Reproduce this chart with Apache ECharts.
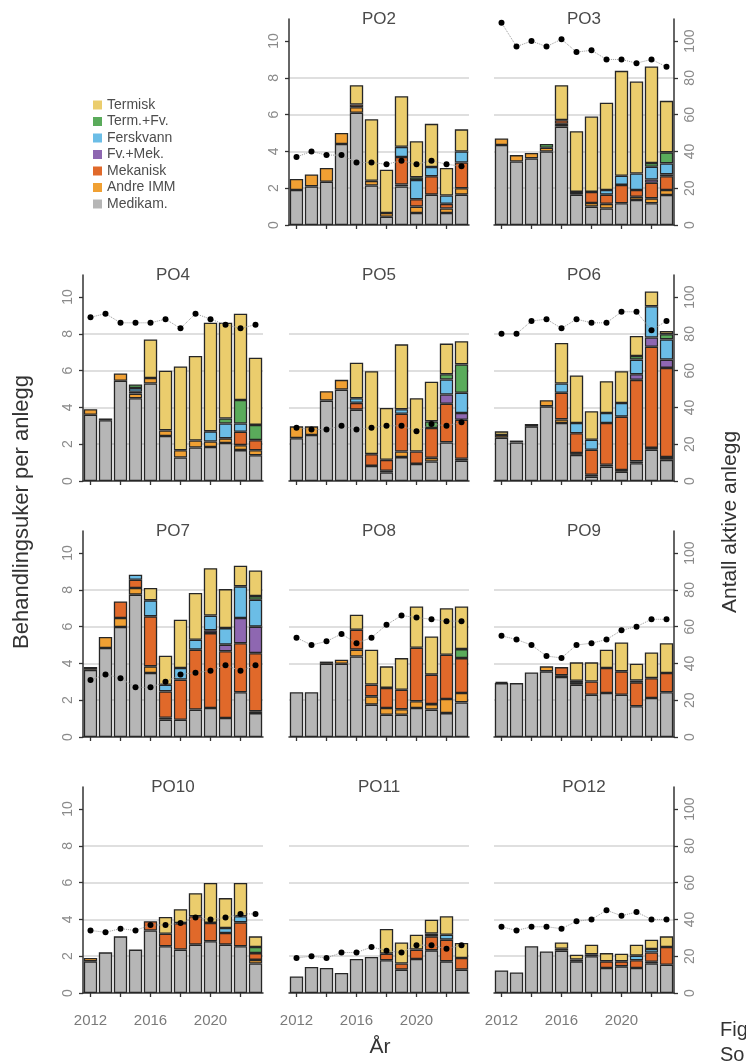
<!DOCTYPE html>
<html><head><meta charset="utf-8">
<script src="https://cdn.jsdelivr.net/npm/echarts@6/dist/echarts.min.js"></script>
<style>html,body{margin:0;padding:0;background:#fff}#c{width:746px;height:1063px}</style>
</head><body><div id="c"></div>
<script>
const years = ['2012','2013','2014','2015','2016','2017','2018','2019','2020','2021','2022','2023'];
const stackNames = ['Medikam.','Andre IMM','Mekanisk','Fv.+Mek.','Ferskvann','Term.+Fv.','Termisk'];
const stackColors = ['#b6b6b6','#f0a033','#e0692a','#8e67b1','#6bbde6','#5aab5b','#ebcd6d'];
const legendOrder = ['Termisk','Term.+Fv.','Ferskvann','Fv.+Mek.','Mekanisk','Andre IMM','Medikam.'];
const leftTicks = [0,2,4,6,8,10];
const rightTicks = [0,20,40,60,80,100];

// PO2
const PO2_medikam = [1.9,2.1,2.35,4.4,6.1,2.15,0.45,2.1,0.65,1.65,0.65,1.65];
const PO2_andre   = [0.6,0.65,0.75,0.6,0.3,0.25,0.2,0.1,0.35,0,0.25,0.35];
const PO2_mek     = [0,0,0,0,0.15,0,0,1.5,0.4,1.0,0.25,1.4];
const PO2_fvmek   = [0,0,0,0,0,0,0,0,0,0,0,0];
const PO2_fersk   = [0,0,0,0,0,0,0,0.55,1.05,0.5,0.45,0.6];
const PO2_termfv  = [0,0,0,0,0,0,0,0,0.15,0,0,0];
const PO2_termisk = [0,0,0,0,1.05,3.35,2.35,2.75,1.95,2.35,1.5,1.2];
const PO2_anlegg  = [37,40,38,38,34,34,33,35,33,35,33,32];
// PO3
const PO3_medikam = [4.35,3.45,3.62,4.0,5.35,1.65,1.0,0.9,1.18,1.36,1.18,1.63];
const PO3_andre   = [0.35,0.35,0.3,0.2,0.15,0.15,0.2,0.25,0,0.17,0.27,0.27];
const PO3_mek     = [0,0,0,0,0.2,0,0.6,0.5,1.0,0.37,0.85,0.75];
const PO3_fvmek   = [0,0,0,0,0,0,0,0,0,0,0.17,0.1];
const PO3_fersk   = [0,0,0,0,0,0,0,0.25,0.5,0.9,0.7,0.6];
const PO3_termfv  = [0,0,0,0.2,0,0,0,0,0,0,0.2,0.6];
const PO3_termisk = [0,0,0,0,1.9,3.3,4.1,4.75,5.7,5.0,5.25,2.8];
const PO3_anlegg  = [110,97,100,97,101,94,95,90,90,88,90,86];
// PO4
const PO4_medikam = [3.6,3.3,5.45,4.5,5.3,2.45,1.28,1.82,1.85,2.07,1.68,1.4];
const PO4_andre   = [0.3,0.1,0.4,0.25,0.3,0.3,0.39,0.38,0.3,0.25,0.27,0.27];
const PO4_mek     = [0,0,0,0.1,0,0,0,0,0,0,0.73,0.55];
const PO4_fvmek   = [0,0,0,0,0,0,0,0,0,0,0,0];
const PO4_fersk   = [0,0,0,0.2,0,0,0,0,0.55,0.81,0.45,0];
const PO4_termfv  = [0,0,0,0.2,0,0,0,0,0,0.27,1.27,0.83];
const PO4_termisk = [0,0,0,0,2.1,3.25,4.56,4.6,5.9,5.2,4.7,3.65];
const PO4_anlegg  = [89,91,86,86,86,88,83,91,88,85,83,85];
// PO5
const PO5_medikam = [2.33,2.5,4.37,4.97,3.88,0.82,0.46,1.3,0.93,1.06,2.1,1.11];
const PO5_andre   = [0.64,0.47,0.51,0.53,0,0,0.1,0.3,0,0.2,0,0.1];
const PO5_mek     = [0,0,0,0,0.37,0.64,0.59,2.06,0.67,1.62,2.1,2.12];
const PO5_fvmek   = [0,0,0,0,0,0,0,0,0,0,0.5,0.37];
const PO5_fersk   = [0,0,0,0,0.25,0,0,0.24,0,0,0.82,1.1];
const PO5_termfv  = [0,0,0,0,0,0,0,0,0,0.36,0.28,1.54];
const PO5_termisk = [0,0,0,0,1.93,4.51,2.82,3.53,2.9,2.16,1.67,1.26];
const PO5_anlegg  = [29,28,28,30,28,29,30,30,27,31,30,32];
// PO6
const PO6_medikam = [2.35,2.1,2.97,4.06,3.15,1.42,0.24,0.78,0.5,0.97,1.7,1.15];
const PO6_andre   = [0.15,0.1,0.13,0.33,0.2,0.1,0.1,0.1,0.1,0.1,0.1,0.15];
const PO6_mek     = [0,0,0,0,1.45,1.08,1.36,2.27,2.9,4.43,5.5,4.85];
const PO6_fvmek   = [0,0,0,0,0,0,0,0,0,0.3,0.5,0.45];
const PO6_fersk   = [0,0,0,0,0.5,0.55,0.54,0.55,0.74,0.8,1.7,1.1];
const PO6_termfv  = [0,0,0,0,0,0,0,0,0,0.2,0,0.28];
const PO6_termisk = [0.2,0,0,0,2.2,2.59,1.55,1.73,1.73,1.08,0.8,0.17];
const PO6_anlegg  = [80,80,87,88,83,88,86,86,92,92,82,87];
// PO7
const PO7_medikam = [3.65,4.84,5.98,7.74,3.48,0.94,0.94,1.49,1.58,1.03,2.43,1.3];
const PO7_andre   = [0.15,0.6,0.49,0.36,0.36,0.1,0,0,0,0,0,0.1];
const PO7_mek     = [0,0,0.9,0.45,2.72,1.44,2.18,3.26,4.07,3.63,2.67,3.16];
const PO7_fvmek   = [0,0,0,0,0,0,0,0,0.15,0.36,1.37,1.44];
const PO7_fersk   = [0,0,0,0.27,0.87,0.36,0.63,0.54,0.8,0.9,1.72,1.46];
const PO7_termfv  = [0,0,0,0,0,0,0,0,0,0,0,0.2];
const PO7_termisk = [0,0,0,0,0.67,1.58,2.63,2.54,2.58,2.12,1.12,1.39];
const PO7_anlegg  = [31,34,32,27,27,30,34,35,36,39,36,39];
// PO8
const PO8_medikam = [2.43,2.43,3.98,3.98,4.38,1.76,1.21,1.21,1.58,1.49,1.3,1.88];
const PO8_andre   = [0,0,0.12,0.22,0.37,0.45,0.37,0.3,0.36,0.3,0.77,0.51];
const PO8_mek     = [0,0,0,0,1.08,0.64,1.09,1.06,2.91,1.6,2.4,1.9];
const PO8_fvmek   = [0,0,0,0,0,0,0,0,0,0,0,0];
const PO8_fersk   = [0,0,0,0,0,0,0,0,0,0,0,0];
const PO8_termfv  = [0,0,0,0,0,0,0,0,0,0,0,0.49];
const PO8_termisk = [0,0,0,0,0.82,1.9,1.17,1.72,2.25,2.08,2.53,2.32];
const PO8_anlegg  = [54,50,52,56,51,54,61,66,65,64,63,63];
// PO9
const PO9_medikam = [2.93,2.93,3.51,3.57,3.26,2.84,2.3,2.39,2.3,1.67,2.12,2.43];
const PO9_andre   = [0.07,0,0,0.27,0.1,0.1,0,0,0,0,0,0];
const PO9_mek     = [0,0,0,0,0.44,0,0.72,1.36,1.27,1.3,1.08,1.05];
const PO9_fvmek   = [0,0,0,0,0,0,0,0,0,0,0,0];
const PO9_fersk   = [0,0,0,0,0,0.12,0,0,0,0.1,0,0];
const PO9_termfv  = [0,0,0,0,0,0,0,0,0,0,0,0];
const PO9_termisk = [0,0,0,0,0,1.0,1.04,1.0,1.57,0.91,1.4,1.62];
const PO9_anlegg  = [55,53,50,44,43,50,51,53,58,60,64,64];
// PO10
const PO10_medikam = [1.72,2.21,3.08,2.36,3.4,2.54,2.36,2.63,2.81,2.63,2.54,1.6];
const PO10_andre   = [0.18,0,0,0,0,0,0,0,0,0,0,0.2];
const PO10_mek     = [0,0,0,0,0.5,0.68,1.44,1.54,1.0,0.63,1.3,0.37];
const PO10_fvmek   = [0,0,0,0,0,0,0,0,0,0,0,0];
const PO10_fersk   = [0,0,0,0,0,0,0,0,0,0.27,0.33,0];
const PO10_termfv  = [0,0,0,0,0,0,0,0,0,0,0,0.33];
const PO10_termisk = [0,0,0,0,0,0.91,0.76,1.26,2.17,1.63,1.81,0.58];
const PO10_anlegg  = [34,33,35,34,37,37,38,41,40,41,43,43];
// PO11
const PO11_medikam = [0.9,1.41,1.36,1.09,1.85,1.96,1.78,1.27,1.85,2.32,1.72,1.27];
const PO11_andre   = [0,0,0,0,0,0,0,0,0,0,0,0];
const PO11_mek     = [0,0,0,0,0,0,0.36,0.33,0.51,0.76,1.18,0.63];
const PO11_fvmek   = [0,0,0,0,0,0,0,0,0,0,0,0];
const PO11_fersk   = [0,0,0,0,0,0,0,0,0,0.15,0.27,0];
const PO11_termfv  = [0,0,0,0,0,0,0,0,0,0,0,0];
const PO11_termisk = [0,0,0,0,0,0,1.34,1.15,0.81,0.75,1.0,0.82];
const PO11_anlegg  = [19,20,19,22,22,25,23,22,26,26,24,26];
// PO12
const PO12_medikam = [1.23,1.12,2.54,2.26,2.3,1.72,2.0,1.36,1.45,1.36,1.6,1.54];
const PO12_andre   = [0,0,0,0,0.1,0.1,0.1,0,0,0,0.1,0];
const PO12_mek     = [0,0,0,0,0,0,0,0.36,0.27,0.42,0.5,0.96];
const PO12_fvmek   = [0,0,0,0,0,0,0,0,0,0,0,0];
const PO12_fersk   = [0,0,0,0,0,0,0,0,0,0.25,0.19,0];
const PO12_termfv  = [0,0,0,0,0,0,0,0,0,0,0,0];
const PO12_termisk = [0,0,0,0,0.35,0.26,0.53,0.45,0.42,0.6,0.51,0.58];
const PO12_anlegg  = [36,34,36,36,35,39,40,45,42,44,40,40];

const panels = [
  {name:'PO2', row:0, col:1, axis:'left',  stacks:[PO2_medikam,PO2_andre,PO2_mek,PO2_fvmek,PO2_fersk,PO2_termfv,PO2_termisk], anlegg:PO2_anlegg},
  {name:'PO3', row:0, col:2, axis:'right', stacks:[PO3_medikam,PO3_andre,PO3_mek,PO3_fvmek,PO3_fersk,PO3_termfv,PO3_termisk], anlegg:PO3_anlegg},
  {name:'PO4', row:1, col:0, axis:'left',  stacks:[PO4_medikam,PO4_andre,PO4_mek,PO4_fvmek,PO4_fersk,PO4_termfv,PO4_termisk], anlegg:PO4_anlegg},
  {name:'PO5', row:1, col:1, axis:'none',  stacks:[PO5_medikam,PO5_andre,PO5_mek,PO5_fvmek,PO5_fersk,PO5_termfv,PO5_termisk], anlegg:PO5_anlegg},
  {name:'PO6', row:1, col:2, axis:'right', stacks:[PO6_medikam,PO6_andre,PO6_mek,PO6_fvmek,PO6_fersk,PO6_termfv,PO6_termisk], anlegg:PO6_anlegg},
  {name:'PO7', row:2, col:0, axis:'left',  stacks:[PO7_medikam,PO7_andre,PO7_mek,PO7_fvmek,PO7_fersk,PO7_termfv,PO7_termisk], anlegg:PO7_anlegg},
  {name:'PO8', row:2, col:1, axis:'none',  stacks:[PO8_medikam,PO8_andre,PO8_mek,PO8_fvmek,PO8_fersk,PO8_termfv,PO8_termisk], anlegg:PO8_anlegg},
  {name:'PO9', row:2, col:2, axis:'right', stacks:[PO9_medikam,PO9_andre,PO9_mek,PO9_fvmek,PO9_fersk,PO9_termfv,PO9_termisk], anlegg:PO9_anlegg},
  {name:'PO10', row:3, col:0, axis:'left',  stacks:[PO10_medikam,PO10_andre,PO10_mek,PO10_fvmek,PO10_fersk,PO10_termfv,PO10_termisk], anlegg:PO10_anlegg},
  {name:'PO11', row:3, col:1, axis:'none',  stacks:[PO11_medikam,PO11_andre,PO11_mek,PO11_fvmek,PO11_fersk,PO11_termfv,PO11_termisk], anlegg:PO11_anlegg},
  {name:'PO12', row:3, col:2, axis:'right', stacks:[PO12_medikam,PO12_andre,PO12_mek,PO12_fvmek,PO12_fersk,PO12_termfv,PO12_termisk], anlegg:PO12_anlegg}
];

const FONT = '"Liberation Sans", Arial, sans-serif';
const colLeft = [83, 289, 494];
const rowZero = [225, 481, 737, 993];
const plotW = 180, plotH = 206;
const axisCol = '#333';

const grids = [], xAxes = [], yAxes = [], series = [], graphics = [];
panels.forEach((p, i) => {
  const left = colLeft[p.col], top = rowZero[p.row] - plotH;
  grids.push({left, top, width: plotW, height: plotH, containLabel: false});
  const bottom = p.row === 3;
  xAxes.push({
    type: 'category', gridIndex: i, data: years, offset: 8,
    axisLine: {show: true, lineStyle: {color: axisCol, width: 1.5}},
    axisTick: {show: true, interval: 1, alignWithLabel: true, length: 4, lineStyle: {color: axisCol, width: 1.3}},
    axisLabel: {show: bottom, interval: 3, color: '#7a7a7a', fontSize: 15, fontFamily: FONT, margin: 12},
    splitLine: {show: false}
  });
  const showL = p.axis === 'left', showR = p.axis === 'right';
  yAxes.push({
    type: 'value', gridIndex: i, min: 0, max: 11.2, interval: 2, position: 'left',
    axisLine: {show: showL, lineStyle: {color: axisCol, width: 1.5}},
    axisTick: {show: showL, length: 4, customValues: leftTicks, lineStyle: {color: axisCol, width: 1.3}},
    axisLabel: {show: showL, customValues: leftTicks, rotate: 90, color: '#8a8a8a', fontSize: 14, fontFamily: FONT, margin: 8},
    splitLine: {show: true, showMinLine: false, showMaxLine: false, lineStyle: {color: '#d4d4d4', width: 1.5}}
  });
  yAxes.push({
    type: 'value', gridIndex: i, min: 0, max: 112, interval: 20, position: 'right',
    axisLine: {show: showR, lineStyle: {color: axisCol, width: 1.5}},
    axisTick: {show: showR, length: 4, customValues: rightTicks, lineStyle: {color: axisCol, width: 1.3}},
    axisLabel: {show: showR, customValues: rightTicks, rotate: 90, color: '#8a8a8a', fontSize: 14, fontFamily: FONT, margin: 9},
    splitLine: {show: false}
  });
  p.stacks.forEach((arr, k) => {
    series.push({
      type: 'bar', name: stackNames[k], xAxisIndex: i, yAxisIndex: 2 * i, stack: 'p' + i,
      data: arr.map(v => v > 0 ? v : '-'),
      barCategoryGap: '11%',
      itemStyle: {color: stackColors[k], borderColor: '#262626', borderWidth: 1.3},
      emphasis: {disabled: true}, animation: false
    });
  });
  series.push({
    type: 'line', name: 'Antall aktive anlegg', xAxisIndex: i, yAxisIndex: 2 * i + 1,
    data: p.anlegg, symbol: 'circle', symbolSize: 6, z: 5,
    itemStyle: {color: '#000'},
    lineStyle: {color: '#9a9a9a', width: 1, type: 'dotted'},
    emphasis: {disabled: true}, animation: false
  });
  graphics.push({
    type: 'text', x: left + plotW / 2, y: rowZero[p.row] - plotH,
    style: {text: p.name, align: 'center', verticalAlign: 'middle', fontSize: 17, fontFamily: FONT, fill: '#4a4a4a'}
  });
});

graphics.push({type: 'text', x: 22, y: 512, rotation: Math.PI / 2,
  style: {text: 'Behandlingsuker per anlegg', align: 'center', verticalAlign: 'middle', fontSize: 22, fontFamily: FONT, fill: '#333'}});
graphics.push({type: 'text', x: 730, y: 522, rotation: Math.PI / 2,
  style: {text: 'Antall aktive anlegg', align: 'center', verticalAlign: 'middle', fontSize: 21, fontFamily: FONT, fill: '#333'}});
graphics.push({type: 'text', x: 380, y: 1047,
  style: {text: 'År', align: 'center', verticalAlign: 'middle', fontSize: 21, fontFamily: FONT, fill: '#333'}});
graphics.push({type: 'text', x: 720, y: 1030,
  style: {text: 'Fig', align: 'left', verticalAlign: 'middle', fontSize: 20, fontFamily: FONT, fill: '#333'}});
graphics.push({type: 'text', x: 720, y: 1055,
  style: {text: 'So', align: 'left', verticalAlign: 'middle', fontSize: 20, fontFamily: FONT, fill: '#333'}});

const chart = echarts.init(document.getElementById('c'), null, {renderer: 'canvas'});
chart.setOption({
  backgroundColor: '#fff',
  animation: false,
  legend: {
    data: legendOrder, orient: 'vertical', left: 88, top: 93,
    icon: 'rect', itemWidth: 9, itemHeight: 9, itemGap: 2.5,
    itemStyle: {borderWidth: 0},
    selectedMode: false,
    textStyle: {fontSize: 14, fontFamily: FONT, color: '#4d4d4d', lineHeight: 12}
  },
  grid: grids, xAxis: xAxes, yAxis: yAxes, series, graphic: graphics
});
</script></body></html>
